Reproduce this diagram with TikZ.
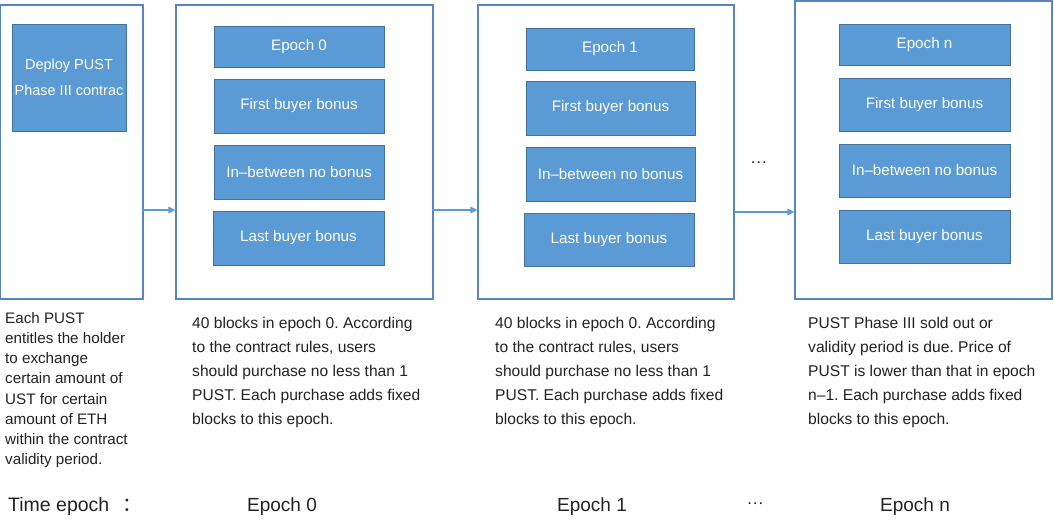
\documentclass[tikz,border=0pt]{standalone}
\usepackage{fontspec}
\setmainfont{Liberation Sans}
\newfontfamily\cjk{Noto Sans CJK SC}
\usetikzlibrary{arrows.meta}
\frenchspacing
\definecolor{outerline}{HTML}{5585C2}
\definecolor{blkfill}{HTML}{5B9BD5}
\definecolor{blkline}{HTML}{41719C}
\definecolor{arrowc}{HTML}{5B9BD5}
\definecolor{txt}{HTML}{222222}
\tikzset{
  outerbox/.style={draw=outerline, line width=1.1pt, fill=white, inner sep=0pt, minimum width=257pt, minimum height=294pt},
  blk/.style={draw=blkline, line width=0.9pt, fill=blkfill, text=white, inner sep=0pt, font=\fontsize{15.2}{18}\selectfont, minimum width=170pt, minimum height=54pt},
  para/.style={anchor=north west, inner sep=0pt, align=left, text=txt, font=\fontsize{15.6}{24}\selectfont},
  lab/.style={anchor=base, inner sep=0pt, text=txt, font=\fontsize{19}{22}\selectfont},
  arr/.style={draw=arrowc, line width=1.2pt, -{Triangle[length=7pt,width=6.5pt]}}
}
\begin{document}
\begin{tikzpicture}[x=1pt,y=-1pt]
\useasboundingbox (0,0) rectangle (1054,526);
% outer boxes
\node[outerbox, minimum width=142.4pt] (b0) at (71.8,152) {};
\node[outerbox] (b1) at (304.5,152) {};
\node[outerbox, minimum width=256pt] (b2) at (606,152) {};
\node[outerbox, minimum height=298pt] (b3) at (923.5,150) {};
% deploy box
\node[blk, minimum width=114pt, minimum height=107pt, align=center, font=\fontsize{14.5}{26}\selectfont] (dep) at (69,77.5) {Deploy PUST\\Phase III contrac};
% epoch 0
\node[blk, minimum height=41pt] (e0) at (299,46.5) {Epoch 0};
\node[blk] (f0) at (299,106) {First buyer bonus};
\node[blk] (m0) at (299,172) {In–between no bonus};
\node[blk, minimum width=171pt] (l0) at (298.5,238) {Last buyer bonus};
% epoch 1
\node[blk, minimum width=168pt, minimum height=42pt] (e1) at (610,49) {Epoch 1};
\node[blk, minimum width=169pt] (f1) at (610.5,108) {First buyer bonus};
\node[blk, minimum width=169pt] (m1) at (610.5,174) {In–between no bonus};
\node[blk, minimum height=53pt] (l1) at (609,239.5) {Last buyer bonus};
% epoch n
\node[blk, minimum width=171pt, minimum height=41pt] (en) at (924.5,44.5) {Epoch n};
\node[blk, minimum width=171pt, minimum height=53pt] (fn) at (924.5,104.5) {First buyer bonus};
\node[blk, minimum width=171pt, minimum height=53pt] (mn) at (924.5,170.5) {In–between no bonus};
\node[blk, minimum width=171pt, minimum height=53pt] (ln) at (924.5,236.5) {Last buyer bonus};
% arrows
\draw[arr] ([xshift=-2pt]b0.east |- 0,210) -- (b1.west |- 0,210);
\draw[arr] ([xshift=-2pt]b1.east |- 0,210) -- (b2.west |- 0,210);
\draw[arr] ([xshift=-1pt]b2.east |- 0,212) -- (b3.west |- 0,212);
\node[inner sep=0pt, text=txt, font=\fontsize{15}{18}\selectfont\cjk] (dots1) at (758.5,162.5) {…};
% descriptions
\node[para, font=\fontsize{15.2}{20.2}\selectfont] (t0) at (5,312) {Each PUST\\entitles the holder\\to exchange\\certain amount of\\UST for certain\\amount of ETH\\within the contract\\validity period.};
\node[para] (t1) at (192,316.6) {40 blocks in epoch 0. According\\to the contract rules, users\\should purchase no less than 1\\PUST. Each purchase adds fixed\\blocks to this epoch.};
\node[para] (t2) at (495,316.6) {40 blocks in epoch 0. According\\to the contract rules, users\\should purchase no less than 1\\PUST. Each purchase adds fixed\\blocks to this epoch.};
\node[para] (t3) at (808,316.6) {PUST Phase III sold out or\\validity period is due. Price of\\PUST is lower than that in epoch\\n–1. Each purchase adds fixed\\blocks to this epoch.};
% time epoch row
\node[lab, anchor=base west, font=\fontsize{19.5}{22}\selectfont] (te) at (8,511) {Time epoch\hspace{13pt}{\cjk ：}};
\node[lab] (le0) at (282,511) {Epoch 0};
\node[lab] (le1) at (592,511) {Epoch 1};
\node[inner sep=0pt, text=txt, font=\fontsize{15}{18}\selectfont\cjk] (dots2) at (755,504) {…};
\node[lab] (len) at (915,511) {Epoch n};
\end{tikzpicture}
\end{document}
